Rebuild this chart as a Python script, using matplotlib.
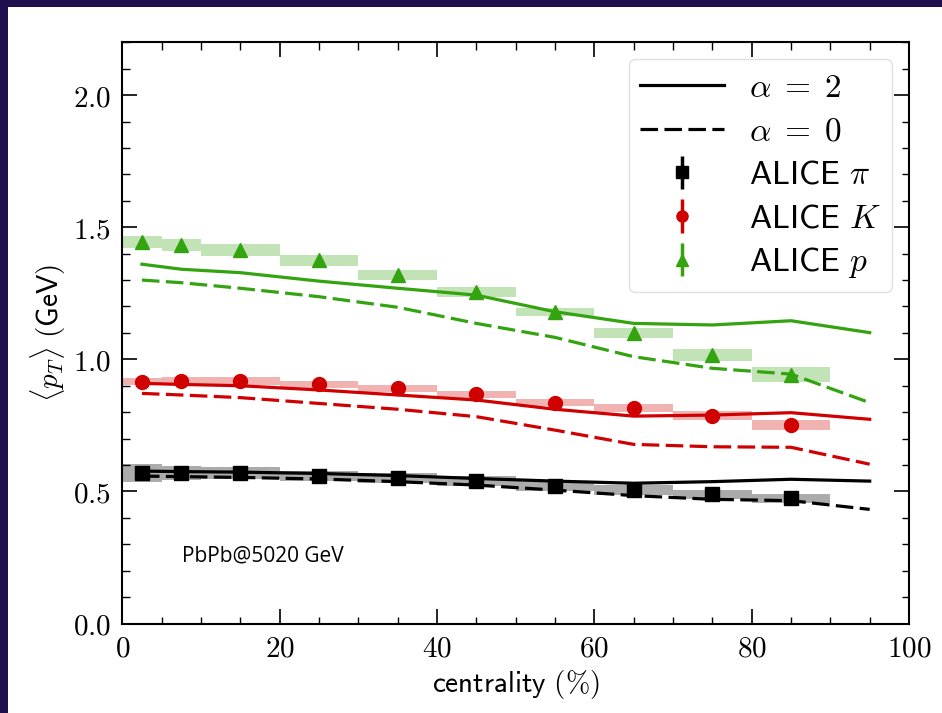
import matplotlib
matplotlib.use('Agg')
import matplotlib.pyplot as plt
from matplotlib.patches import Rectangle
from matplotlib.lines import Line2D
from matplotlib.ticker import MultipleLocator, FuncFormatter

plt.rcParams['mathtext.fontset'] = 'cm'

# ALICE data, PbPb 5.02 TeV
cent_lo = [0, 5, 10, 20, 30, 40, 50, 60, 70, 80]
cent_hi = [5, 10, 20, 30, 40, 50, 60, 70, 80, 90]
cent_mid = [2.5, 7.5, 15, 25, 35, 45, 55, 65, 75, 85]

pi_mean = [0.569, 0.570, 0.570, 0.559, 0.551, 0.539, 0.519, 0.505, 0.490, 0.474]
pi_sys = [0.033, 0.025, 0.022, 0.020, 0.020, 0.020, 0.019, 0.018, 0.017, 0.017]
k_mean = [0.915, 0.919, 0.918, 0.905, 0.890, 0.868, 0.836, 0.815, 0.787, 0.752]
k_sys = [0.014, 0.014, 0.014, 0.013, 0.013, 0.013, 0.014, 0.015, 0.016, 0.019]
p_mean = [1.445, 1.433, 1.413, 1.375, 1.318, 1.254, 1.180, 1.098, 1.016, 0.942]
p_sys = [0.023, 0.023, 0.022, 0.021, 0.019, 0.019, 0.016, 0.019, 0.022, 0.028]
stat_err = [0.002] * 10

# model curves
model_cent = [2.5, 7.5, 15, 25, 35, 45, 55, 65, 75, 85, 95]
pi_a2 = [0.577, 0.575, 0.573, 0.568, 0.560, 0.549, 0.539, 0.531, 0.537, 0.546, 0.539]
pi_a0 = [0.558, 0.556, 0.553, 0.547, 0.537, 0.524, 0.505, 0.484, 0.470, 0.465, 0.432]
k_a2 = [0.909, 0.905, 0.900, 0.884, 0.865, 0.846, 0.811, 0.785, 0.789, 0.798, 0.773]
k_a0 = [0.871, 0.865, 0.855, 0.833, 0.811, 0.783, 0.732, 0.678, 0.669, 0.667, 0.603]
p_a2 = [1.360, 1.341, 1.328, 1.296, 1.269, 1.243, 1.180, 1.136, 1.130, 1.146, 1.101]
p_a0 = [1.300, 1.290, 1.269, 1.237, 1.197, 1.136, 1.083, 1.010, 0.966, 0.944, 0.836]

black = 'black'
red = '#d10000'
green = '#33a30f'
dash = (0, (5.5, 2))

fig = plt.figure(figsize=(9.42, 7.13), dpi=100)
fig.patch.set_facecolor('#1f0f4f')
# white page inside the dark frame (frame only on top and left)
fig.add_artist(Rectangle((8 / 942, 0), 1, 1 - 7 / 713, transform=fig.transFigure,
                         facecolor='white', edgecolor='none', zorder=-10))

ax = fig.add_axes([0.1298, 0.1255, 0.965 - 0.1298, 0.9407 - 0.1255])

widths = [h - l for l, h in zip(cent_lo, cent_hi)]
for mean, sys_, col, a in [(pi_mean, pi_sys, black, 0.33),
                           (k_mean, k_sys, red, 0.3),
                           (p_mean, p_sys, green, 0.3)]:
    bottoms = [m - s for m, s in zip(mean, sys_)]
    heights = [2 * s for s in sys_]
    ax.bar(cent_lo, heights, width=widths, bottom=bottoms, align='edge',
           color=col, alpha=a, linewidth=0, zorder=1)

lw = 2.3
for a2, a0, col in [(pi_a2, pi_a0, black), (k_a2, k_a0, red), (p_a2, p_a0, green)]:
    ax.plot(model_cent, a2, color=col, lw=lw, zorder=2)
    ax.plot(model_cent, a0, color=col, lw=lw, ls=dash, zorder=2)

e_pi = ax.errorbar(cent_mid, pi_mean, yerr=stat_err, fmt='s', color=black, ms=10,
                   elinewidth=2.5, zorder=3)
e_k = ax.errorbar(cent_mid, k_mean, yerr=stat_err, fmt='o', color=red, ms=10,
                  elinewidth=2.5, zorder=3)
e_p = ax.errorbar(cent_mid, p_mean, yerr=stat_err, fmt='^', color=green, ms=10,
                  elinewidth=2.5, zorder=3)

l_a2 = Line2D([], [], color='black', lw=lw)
l_a0 = Line2D([], [], color='black', lw=lw, ls=dash)

ax.legend([l_a2, l_a0, e_pi, e_k, e_p],
          [r'$\alpha\;=\;2$', r'$\alpha\;=\;0$', r'$\mathsf{ALICE}\ \pi$',
           r'$\mathsf{ALICE}\ K$', r'$\mathsf{ALICE}\ p$'],
          loc='upper right', fontsize=24, handlelength=2.5, handletextpad=0.75,
          labelspacing=0.32, borderpad=0.35, borderaxespad=0.5, markerscale=0.8,
          fancybox=True, framealpha=0.8, edgecolor='0.85')

ax.text(7.6, 0.255, 'PbPb@5020 GeV', fontsize=15, family='Open Sans', va='center')

ax.set_xlim(0, 100)
ax.set_ylim(0, 2.2)
ax.xaxis.set_major_locator(MultipleLocator(20))
ax.xaxis.set_minor_locator(MultipleLocator(5))
ax.yaxis.set_major_locator(MultipleLocator(0.5))
ax.yaxis.set_minor_locator(MultipleLocator(0.1))
ax.xaxis.set_major_formatter(FuncFormatter(lambda v, p: f'${v:.0f}$'))
ax.yaxis.set_major_formatter(FuncFormatter(lambda v, p: f'${v:.1f}$'))
ax.tick_params(which='both', direction='in', top=True, right=True, labelsize=21)
ax.tick_params(which='major', length=10.8, width=1.2, pad=8)
ax.tick_params(which='minor', length=5.4, width=1.0)
for s in ax.spines.values():
    s.set_linewidth(1.5)

ax.set_xlabel(r'$\mathsf{centrality\ (\%)}$', fontsize=21)
ax.set_ylabel(r'$\langle p_T\rangle\ \mathsf{(GeV)}$', fontsize=21)

fig.savefig('out.png', dpi=100, facecolor=fig.get_facecolor())
